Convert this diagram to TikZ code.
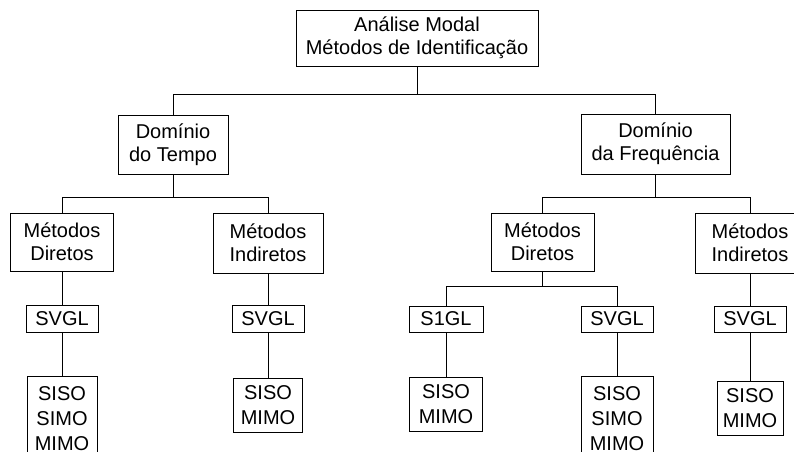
\documentclass[tikz,border=0pt]{standalone}
\usepackage{fontspec}
\setmainfont{Liberation Sans}

\begin{document}
\begin{tikzpicture}[x=1pt,y=-1pt,line width=0.9pt]
\tikzset{box/.style = {draw=black, align=center, inner sep=0pt, font=\fontsize{20}{23}\selectfont}}
\tikzset{leaf/.style = {box, font=\fontsize{20}{25}\selectfont}}
\clip (0,0) rectangle (794,451);

    \node[box, minimum width=242, minimum height=56] (top) at (417,38) {Análise Modal\\Métodos de Identificação};

    \node[box, minimum width=110, minimum height=59] (tempo) at (173,144.5) {Domínio\\do Tempo};
    \node[box, minimum width=149, minimum height=60] (freq) at (655.5,144) {Domínio\\da Frequência};

    \node[box, minimum width=103, minimum height=58] (tdir) at (62,242) {Métodos\\Diretos};
    \node[box, minimum width=110, minimum height=60] (tind) at (268,243) {Métodos\\Indiretos};
    \node[box, minimum width=103, minimum height=58] (fdir) at (542.5,242) {Métodos\\Diretos};
    \node[box, minimum width=110, minimum height=60] (find) at (750,243) {Métodos\\Indiretos};

    \node[box, minimum width=72, minimum height=27] (tsvgl) at (62,318.5) {SVGL};
    \node[box, minimum width=72, minimum height=27] (tisvgl) at (268,318.5) {SVGL};
    \node[box, minimum width=74, minimum height=26] (fsgl) at (446,319) {S1GL};
    \node[box, minimum width=72, minimum height=26] (fsvgl) at (617,319) {SVGL};
    \node[box, minimum width=72, minimum height=26] (fisvgl) at (750,319) {SVGL};

    \node[leaf, minimum width=70, minimum height=86] (tsmm) at (62,419) {SISO\\SIMO\\MIMO};
    \node[leaf, minimum width=69, minimum height=54] (tism) at (268,405) {SISO\\MIMO};
    \node[leaf, minimum width=73, minimum height=54] (fsm) at (446,404) {SISO\\MIMO};
    \node[leaf, minimum width=72, minimum height=86] (fsmm) at (617,419) {SISO\\SIMO\\MIMO};
    \node[leaf, minimum width=66, minimum height=54] (fism) at (750,408) {SISO\\MIMO};

\coordinate (j0) at (417,94);
\coordinate (j1) at (173,197);
\coordinate (j2) at (655.5,197);
\coordinate (j3) at (542.5,286);

\draw (top.south)--(j0);
\draw (j0) -| (tempo.north);
\draw (j0) -| (freq.north);

\draw (tempo.south)--(j1);
\draw (j1) -| (tdir.north);
\draw (j1) -| (tind.north);

\draw (freq.south)--(j2);
\draw (j2) -| (fdir.north);
\draw (j2) -| (find.north);

\draw (fdir.south)--(j3);
\draw (j3) -| (fsgl.north);
\draw (j3) -| (fsvgl.north);

\draw (tdir.south)--(tsvgl.north);
\draw (tind.south)--(tisvgl.north);
\draw (find.south)--(fisvgl.north);

\draw (tsvgl.south)--(tsmm.north);
\draw (tisvgl.south)--(tism.north);
\draw (fsgl.south)--(fsm.north);
\draw (fsvgl.south)--(fsmm.north);
\draw (fisvgl.south)--(fism.north);

\end{tikzpicture}
\end{document}
